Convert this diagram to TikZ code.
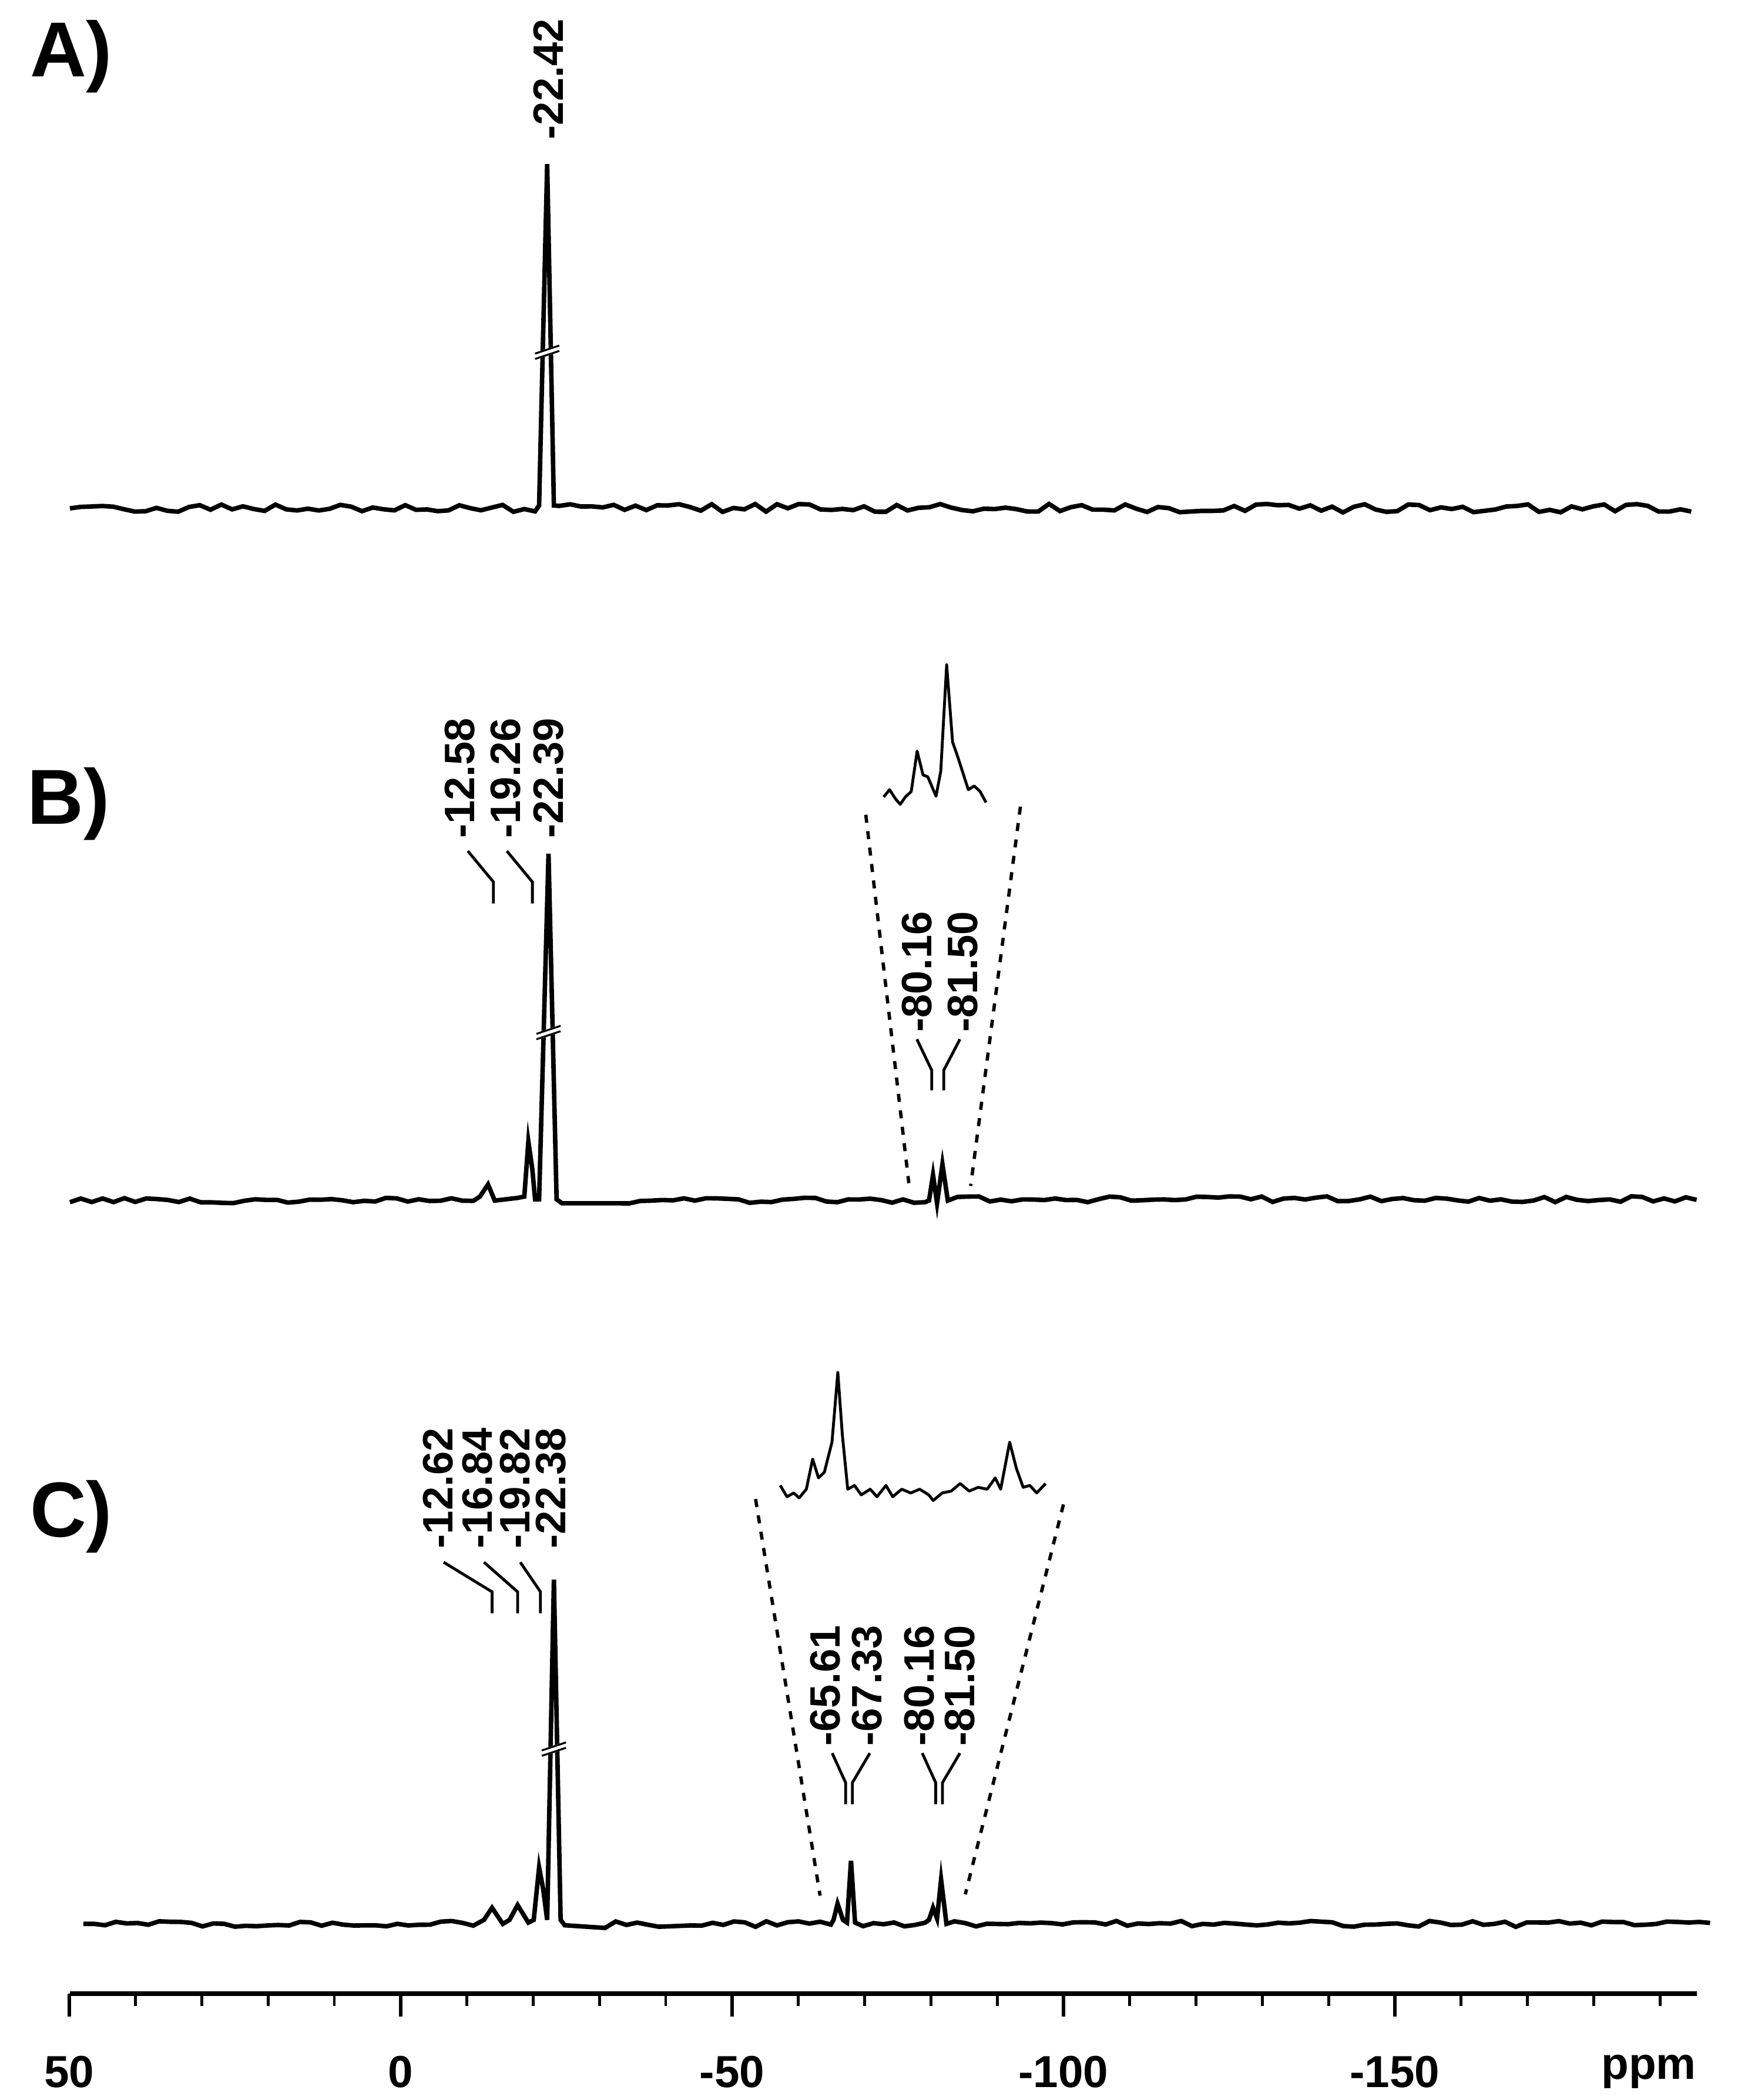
\documentclass[tikz,border=0pt]{standalone}
\usepackage{fontspec}
\setmainfont{Liberation Sans}
\begin{document}
\begin{tikzpicture}[x=0.02cm,y=-0.02cm,
  spec/.style={line width=1.9pt,line join=miter},
  ins/.style={line width=1.2pt,line join=round},
  lead/.style={line width=1.2pt},
  dots/.style={line width=1.4pt,dash pattern=on 3.4pt off 3.6pt},
  plab/.style={rotate=90,anchor=west,inner sep=0pt,font=\fontsize{18}{18}\selectfont\bfseries},
  panel/.style={anchor=west,inner sep=0pt,font=\fontsize{33}{33}\selectfont\bfseries},
  alab/.style={anchor=center,inner sep=0pt,font=\fontsize{19}{19}\selectfont\bfseries}]
\useasboundingbox (0,0) rectangle (1300,1562);
\pgfmathsetseed{11}
\newcommand{\brk}[2]{%
  \draw[white,line width=3pt] (#1-9,#2+3) -- (#1+9,#2-3);
  \draw[line width=0.8pt] (#1-9,#2+5) -- (#1+9,#2-1);
  \draw[line width=0.8pt] (#1-9,#2+1) -- (#1+9,#2-5);}
% ---------- A ----------
\node[panel] (pA) at (22,42) {A)};
\draw[spec] plot[domain=52:398,samples=44] (\x,{378+3.2*rand}) -- (401,376) -- (407,122) -- (412,376)
  -- plot[domain=416:1258,samples=105] (\x,{378+3.2*rand});
\brk{407}{262}
\node[plab] (lA) at (408,104) {-22.42};
% ---------- B ----------
\node[panel] (pB) at (20,598) {B)};
\draw[spec] plot[domain=52:352,samples=38] (\x,{893+2.2*rand}) -- (357,890) -- (363,881) -- (368,893)
  -- (385,891) -- (390,890) -- (393,849) -- (396,870) -- (398,892) -- (401,892) -- (408,635) -- (414,892)
  -- (418,895) -- (460,895) -- plot[domain=468:688,samples=28] (\x,{893+2.2*rand})
  -- (691,893) -- (694,874) -- (697,895) -- (701,866) -- (705,893)
  -- plot[domain=712:1262,samples=69] (\x,{892+2.2*rand});
\brk{408}{768}
\node[plab] (l1) at (342,624) {-12.58};
\node[plab] (l2) at (376,624) {-19.26};
\node[plab] (l3) at (408,624) {-22.39};
\draw[lead] (348,633) -- (367,656) -- (367,672);
\draw[lead] (377,633) -- (396,656) -- (396,672);
\node[plab] (l4) at (682,768) {-80.16};
\node[plab] (l5) at (716,768) {-81.50};
\draw[lead] (682,773) -- (693,796) -- (693,811);
\draw[lead] (714,773) -- (702,796) -- (702,811);
\draw[dots] (644,606) -- (676,880);
\draw[dots] (759,600) -- (722,882);
\begin{scope}[shift={(323.5,480.8)},xscale=0.2928,yscale=0.2732]
\draw[ins] (1140,410) -- (1155,390) -- (1170,415) -- (1182,430) -- (1195,410) -- (1210,395) -- (1225,285)
 -- (1240,350) -- (1252,355) -- (1262,380) -- (1273,408) -- (1285,340) -- (1300,50) -- (1315,260)
 -- (1328,300) -- (1340,340) -- (1355,390) -- (1370,380) -- (1385,395) -- (1400,425);
\end{scope}
% ---------- C ----------
\node[panel] (pC) at (22,1128) {C)};
\draw[spec] plot[domain=62:352,samples=37] (\x,{1431+2.2*rand}) -- (360,1428) -- (366,1419) -- (374,1431)
  -- (379,1428) -- (385,1417) -- (393,1430) -- (397,1428) -- (401,1389) -- (404,1405) -- (407,1428)
  -- (412,1175) -- (417,1428) -- (420,1432) -- (450,1434) -- plot[domain=458:618,samples=21] (\x,{1431+2.2*rand})
  -- (620,1428) -- (623,1416) -- (627,1428) -- (630,1430) -- (633,1384) -- (636,1430)
  -- plot[domain=642:688,samples=7] (\x,{1431+2.2*rand}) -- (691,1428) -- (694,1419) -- (697,1427) -- (700,1398) -- (704,1431)
  -- plot[domain=710:1272,samples=71] (\x,{1431+2.2*rand});
\brk{412}{1301}
\node[plab] (m1) at (326,1152) {-12.62};
\node[plab] (m2) at (355,1152) {-16.84};
\node[plab] (m3) at (383,1152) {-19.82};
\node[plab] (m4) at (410,1152) {-22.38};
\draw[lead] (330,1162) -- (366,1184) -- (366,1200);
\draw[lead] (360,1162) -- (385,1184) -- (385,1200);
\draw[lead] (387,1162) -- (402,1184) -- (402,1200);
\node[plab] (m5) at (614,1299) {-65.61};
\node[plab] (m6) at (645,1299) {-67.33};
\node[plab] (m7) at (684,1299) {-80.16};
\node[plab] (m8) at (714,1299) {-81.50};
\draw[lead] (619,1304) -- (629,1326) -- (629,1342);
\draw[lead] (647,1304) -- (634,1326) -- (634,1342);
\draw[lead] (686,1304) -- (696,1326) -- (696,1342);
\draw[lead] (714,1304) -- (701,1326) -- (701,1342);
\draw[dots] (562,1115) -- (610,1410);
\draw[dots] (791,1119) -- (718,1409);
\begin{scope}[shift={(306,1005.4)},xscale=0.3346,yscale=0.2802]
\draw[ins] (820,355) -- (835,385) -- (850,375) -- (862,388) -- (878,365) -- (892,285) -- (905,335) -- (918,320)
 -- (935,240) -- (948,55) -- (958,220) -- (970,365) -- (985,355) -- (1000,380) -- (1020,365) -- (1035,385)
 -- (1055,355) -- (1070,385) -- (1090,365) -- (1110,375) -- (1130,365) -- (1150,380) -- (1160,395)
 -- (1180,375) -- (1200,370) -- (1220,350) -- (1240,370) -- (1260,360) -- (1280,365) -- (1298,335)
 -- (1310,365) -- (1330,240) -- (1345,310) -- (1360,360) -- (1375,355) -- (1390,375) -- (1410,350);
\end{scope}
% ---------- axis ----------
\draw[line width=1.9pt] (52,1483) -- (1262,1483);
\foreach \p in {50,0,-50,-100,-150}{
  \draw[line width=1.4pt] ({298-4.93*\p},1483) -- ({298-4.93*\p},1500);
  \node[alab] at ({298-4.93*\p},1541) {\p};}
\foreach \p in {40,30,20,10,-10,-20,-30,-40,-60,-70,-80,-90,-110,-120,-130,-140,-160,-170,-180,-190}{
  \draw[line width=1.2pt] ({298-4.93*\p},1483) -- ({298-4.93*\p},1492);}
\node[alab,anchor=east] (ppm) at (1262,1541) {ppm};
\end{tikzpicture}
\end{document}
